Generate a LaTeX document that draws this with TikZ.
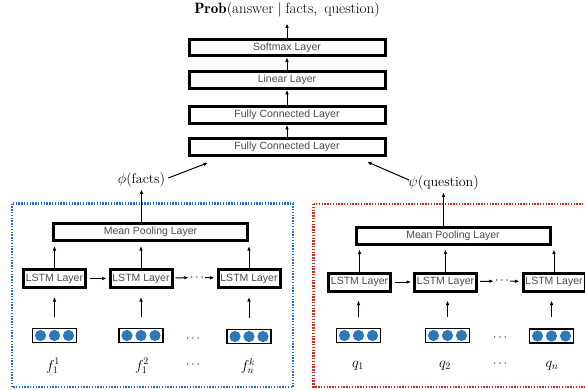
\documentclass[tikz,border=0pt]{standalone}
\usepackage{fontspec}
\newfontfamily\layfont{Liberation Sans}
\usetikzlibrary{arrows.meta}
\definecolor{boxblue}{RGB}{40,110,200}
\definecolor{boxred}{RGB}{200,45,30}
\definecolor{dotblue}{RGB}{46,120,183}
\begin{document}
\begin{tikzpicture}[x=1pt,y=-1pt,
  layer/.style={draw=black, line width=3pt, fill=white, inner sep=0pt,
    font=\layfont\fontsize{10.5}{12}\selectfont, text=black!70},
  toplayer/.style={layer, minimum width=196pt, minimum height=16.5pt},
  pool/.style={layer, minimum width=194pt, minimum height=17pt},
  lstm/.style={layer, minimum width=62pt, minimum height=18pt},
  vecbox/.style={draw=black, line width=1.2pt, minimum width=44pt, minimum height=14pt, inner sep=0pt},
  arr/.style={-{Latex[length=4.5pt,width=3.6pt]}, line width=1pt},
  lab/.style={font=\fontsize{14}{16}\selectfont, inner sep=1pt},
  titlelab/.style={font=\fontsize{15}{17}\selectfont, inner sep=1pt},
  dotsnode/.style={font=\fontsize{12}{14}\selectfont, inner sep=1pt},
  grp/.style={line width=2.6pt, dash pattern=on 1.4pt off 1.4pt}
]
\useasboundingbox (0,0) rectangle (585,389);
\clip (0,0) rectangle (585,389);

% group frames
\draw[grp, draw=boxblue] (12,203.5) rectangle (293,387);
\draw[grp, draw=boxred] (313.5,204) rectangle (600,387);

% top stack
\node[titlelab] (title) at (287,10) {$\mathbf{Prob}(\mathrm{answer}\mid\mathrm{facts,\ question})$};
\node[toplayer] (soft) at (287,47.5) {Softmax Layer};
\node[toplayer] (lin) at (287,80) {Linear Layer};
\node[toplayer] (fc1) at (287,115) {Fully Connected Layer};
\node[toplayer] (fc2) at (287,147) {Fully Connected Layer};

\draw[arr, shorten >=5pt] (soft) -- (title);
\draw[arr] (lin) -- (soft);
\draw[arr] (fc1) -- (lin);
\draw[arr] (fc2) -- (fc1);

\node[lab] (phi) at (141.5,180) {$\phi(\mathrm{facts})$};
\node[lab] (psi) at (443.5,183) {$\psi(\mathrm{question})$};
\draw[arr] ([xshift=2pt,yshift=2pt]phi.east) -- ([xshift=-79pt,yshift=-6pt]fc2.south);
\draw[arr] ([xshift=2pt,yshift=3pt]psi.west) -- ([xshift=80pt,yshift=-5pt]fc2.south);

% left group (facts)
\node[pool] (mpL) at (150.5,232) {Mean Pooling Layer};
\node[lstm] (lL1) at (54.5,278.5) {LSTM Layer};
\node[lstm] (lL2) at (141,278.5) {LSTM Layer};
\node[lstm] (lL3) at (249,278.5) {LSTM Layer};
\node[dotsnode] (hdL) at (197,277.5) {$\cdots$};
\draw[arr, shorten <=3pt, shorten >=2pt] (lL1) -- (lL2);
\draw[arr, shorten <=2pt] (lL2) -- (hdL);
\draw[arr, shorten >=2pt] (hdL) -- (lL3);
\foreach \n in {lL1,lL2,lL3} \draw[arr, shorten >=4pt] (\n) -- (\n |- mpL.south);
\draw[arr, shorten >=1pt] (phi.south |- mpL.north) -- (phi.south);

\node[vecbox] (vL1) at (54.5,335.5) {};
\node[vecbox] (vL2) at (141,335.5) {};
\node[vecbox] (vL3) at (249,336.5) {};
\foreach \n in {vL1,vL2,vL3} {
  \foreach \dx in {-14,0,14} \fill[dotblue] ([xshift=\dx pt]\n.center) circle (5.6pt);
  \draw[arr, shorten <=11pt, shorten >=8pt] (\n) -- (\n |- lL1.south);
}
\node[dotsnode] (vdL) at (193,339) {$\cdots$};
\node[lab] (fL1) at (53,366) {$f_1^1$};
\node[lab] (fL2) at (142,366) {$f_1^2$};
\node[lab] (fL3) at (248,366) {$f_n^k$};
\node[dotsnode] (ldL) at (193,365) {$\cdots$};

% right group (question)
\node[pool] (mpR) at (453,235.5) {Mean Pooling Layer};
\node[lstm] (lR1) at (359.5,282) {LSTM Layer};
\node[lstm] (lR2) at (445.5,282) {LSTM Layer};
\node[lstm] (lR3) at (554,282) {LSTM Layer};
\node[dotsnode] (hdR) at (502,281) {$\cdots$};
\draw[arr, shorten <=3pt, shorten >=2pt] (lR1) -- (lR2);
\draw[arr, shorten <=2pt] (lR2) -- (hdR);
\draw[arr, shorten >=2pt] (hdR) -- (lR3);
\foreach \n in {lR1,lR2,lR3} \draw[arr, shorten >=4pt] (\n) -- (\n |- mpR.south);
\draw[arr, shorten >=1pt] (psi.south |- mpR.north) -- (psi.south);

\node[vecbox] (vR1) at (358.5,335.5) {};
\node[vecbox] (vR2) at (447.5,335.5) {};
\node[vecbox] (vR3) at (551.5,336) {};
\foreach \n in {vR1,vR2,vR3} {
  \foreach \dx in {-14,0,14} \fill[dotblue] ([xshift=\dx pt]\n.center) circle (5.6pt);
  \draw[arr, shorten <=11pt, shorten >=8pt] (\n) -- (\n |- lR1.south);
}
\node[dotsnode] (vdR) at (500,338) {$\cdots$};
\node[lab] (qR1) at (358,366) {$q_1$};
\node[lab] (qR2) at (445,366) {$q_2$};
\node[lab] (qR3) at (552,366) {$q_n$};
\node[dotsnode] (ldR) at (500,364) {$\cdots$};
\end{tikzpicture}
\end{document}
